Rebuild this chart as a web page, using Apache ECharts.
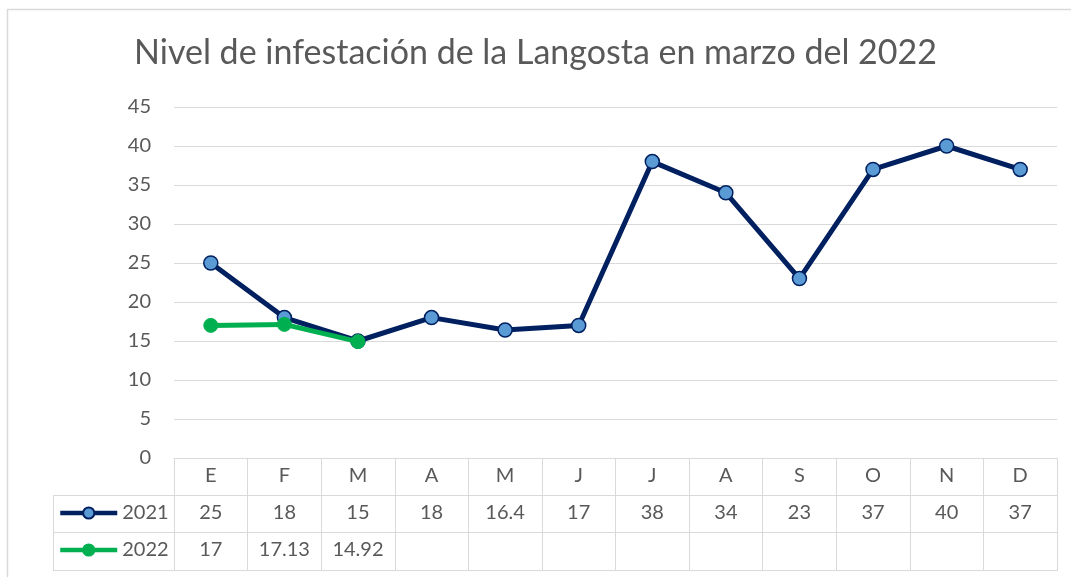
<!DOCTYPE html>
<html>
<head>
<meta charset="utf-8">
<script src="https://cdn.jsdelivr.net/npm/echarts@6/dist/echarts.min.js"></script>
<style>
  html, body { margin: 0; padding: 0; background: #ffffff; }
  #main { width: 1071px; height: 577px; }
</style>
</head>
<body>
<div id="main"></div>
<script>
// datos
var meses = ['E', 'F', 'M', 'A', 'M', 'J', 'J', 'A', 'S', 'O', 'N', 'D']
var serie2021 = [25, 18, 15, 18, 16.4, 17, 38, 34, 23, 37, 40, 37]
var serie2022 = [17, 17.13, 14.92]
var yTicks = [0, 5, 10, 15, 20, 25, 30, 35, 40, 45]

var FONT = 'Lato, "Open Sans", sans-serif'
var GRAY = '#595959'
var LINE = '#d9d9d9'

// medidas de la tabla
var gridLeft = 174
var gridRight = 1057
var axisY = 458
var rowH = 37
var keyLeft = 53

// texto de cada fila de la tabla (vacio si no hay dato)
function fila(arr) {
  return meses.map(function(m, i) {
    return arr[i] === undefined ? '' : String(arr[i])
  })
}

var labelStyle = { color: GRAY, fontSize: 20, fontFamily: FONT, margin: 8 }

var chart = echarts.init(document.getElementById('main'))
var option = {
  animation: false,
  title: {
    text: 'Nivel de infestación de la Langosta en marzo del 2022',
    left: 'center',
    top: 31,
    textStyle: { color: GRAY, fontSize: 34, fontWeight: 'normal', fontFamily: FONT }
  },
  legend: {
    orient: 'vertical',
    left: 58,
    top: 503,
    padding: 0,
    itemWidth: 57,
    itemHeight: 14,
    itemGap: 17,
    lineStyle: { width: 4.5 },
    textStyle: { color: GRAY, fontSize: 20, fontFamily: FONT, lineHeight: 20 },
    data: ['2021', '2022']
  },
  grid: {
    left: gridLeft,
    right: 1071 - gridRight,
    top: 107,
    bottom: 577 - axisY,
    containLabel: false
  },
  xAxis: [
    {
      type: 'category',
      data: meses,
      boundaryGap: true,
      axisLine: { show: true, lineStyle: { color: LINE, width: 1 } },
      axisTick: { show: true, interval: 0, length: rowH * 3 + 2, lineStyle: { color: LINE, width: 1 } },
      axisLabel: Object.assign({ interval: 0 }, labelStyle)
    },
    {
      type: 'category',
      data: fila(serie2021),
      position: 'bottom',
      offset: rowH,
      axisLine: { show: false },
      axisTick: { show: false },
      axisLabel: Object.assign({ interval: 0 }, labelStyle)
    },
    {
      type: 'category',
      data: fila(serie2022),
      position: 'bottom',
      offset: rowH * 2,
      axisLine: { show: false },
      axisTick: { show: false },
      axisLabel: Object.assign({ interval: 0 }, labelStyle)
    }
  ],
  yAxis: {
    type: 'value',
    min: yTicks[0],
    max: yTicks[yTicks.length - 1],
    interval: 5,
    axisLine: { show: false },
    axisTick: { show: false },
    splitLine: { lineStyle: { color: LINE, width: 1 } },
    axisLabel: { color: GRAY, fontSize: 20, fontFamily: FONT, margin: 23 }
  },
  series: [
    {
      name: '2021',
      type: 'line',
      data: serie2021,
      symbol: 'circle',
      symbolSize: 14,
      lineStyle: { color: '#002060', width: 5 },
      itemStyle: { color: '#5b9bd5', borderColor: '#002060', borderWidth: 1.5 },
      z: 2
    },
    {
      name: '2022',
      type: 'line',
      data: serie2022,
      symbol: 'circle',
      symbolSize: 14,
      lineStyle: { color: '#00b050', width: 5 },
      itemStyle: { color: '#00b050', borderColor: '#00b050', borderWidth: 1 },
      z: 3
    }
  ],
  graphic: [
    // marco del grafico
    { type: 'rect', shape: { x: 7.5, y: 9.5, width: 1100, height: 600 }, style: { fill: 'none', stroke: LINE, lineWidth: 1.5 }, silent: true },
    // lineas horizontales de la tabla
    { type: 'line', shape: { x1: keyLeft, y1: axisY + rowH + 0.5, x2: gridRight, y2: axisY + rowH + 0.5 }, style: { stroke: LINE, lineWidth: 1 }, silent: true },
    { type: 'line', shape: { x1: keyLeft, y1: axisY + rowH * 2 + 0.5, x2: gridRight, y2: axisY + rowH * 2 + 0.5 }, style: { stroke: LINE, lineWidth: 1 }, silent: true },
    { type: 'line', shape: { x1: keyLeft, y1: axisY + rowH * 3 + 1.5, x2: gridRight, y2: axisY + rowH * 3 + 1.5 }, style: { stroke: LINE, lineWidth: 1 }, silent: true },
    // borde izquierdo de la columna de leyenda
    { type: 'line', shape: { x1: keyLeft + 0.5, y1: axisY + rowH, x2: keyLeft + 0.5, y2: axisY + rowH * 3 + 2 }, style: { stroke: LINE, lineWidth: 1 }, silent: true }
  ]
}
chart.setOption(option)
</script>
</body>
</html>
